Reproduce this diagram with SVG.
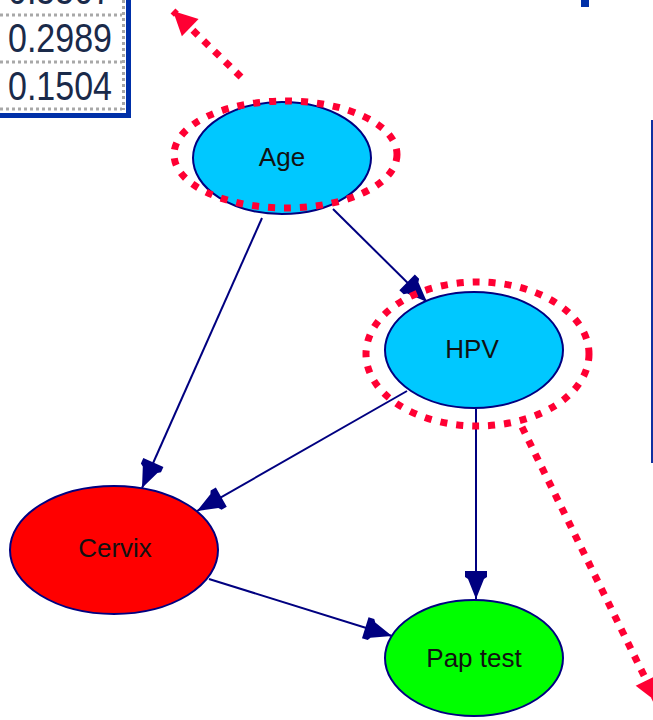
<svg xmlns="http://www.w3.org/2000/svg" width="653" height="720" viewBox="0 0 653 720">
  <defs>
    <marker id="navyHead" markerUnits="userSpaceOnUse" markerWidth="40" markerHeight="30" refX="0" refY="0" orient="auto" overflow="visible">
      <path d="M0,0 L-20,-8 L-22,-11 L-28,-11 L-28,11 L-22,11 L-20,8 Z" fill="#000080"/>
    </marker>
    <marker id="redHead" markerUnits="userSpaceOnUse" markerWidth="40" markerHeight="30" refX="0" refY="0" orient="auto" overflow="visible">
      <path d="M0,0 L-24,-12 L-24,12 Z" fill="#ff0033"/>
    </marker>
  </defs>
  <style>
    .node { stroke: #000080; stroke-width: 2; }
    .label { font-family: "Liberation Sans", Arial, sans-serif; font-size: 26px; fill: #111; text-anchor: middle; }
    .edge { stroke: #000080; stroke-width: 2; fill: none; marker-end: url(#navyHead); }
    .ring { fill: none; stroke: #ff0033; stroke-width: 7; stroke-dasharray: 7 9; }
    .pointer { fill: none; stroke: #ff0033; stroke-width: 7; stroke-dasharray: 7 8; marker-end: url(#redHead); }
    .cell { font-family: "Liberation Sans", Arial, sans-serif; font-size: 40px; fill: #1a2a4a; }
    .rule { stroke: #a8a8a8; stroke-width: 3; stroke-dasharray: 3 3; }
  </style>

  <rect width="653" height="720" fill="#ffffff"/>

  <!-- probability table corner -->
  <g id="table">
    <rect x="0" y="0" width="126" height="113" fill="#ffffff"/>
    <line class="rule" x1="0" y1="15" x2="122" y2="15"/>
    <line class="rule" x1="0" y1="62" x2="122" y2="62"/>
    <line class="rule" x1="0" y1="109" x2="122" y2="109"/>
    <line class="rule" x1="123.5" y1="0" x2="123.5" y2="110"/>
    <text class="cell" x="8" y="4" textLength="104" lengthAdjust="spacingAndGlyphs">0.5507</text>
    <text class="cell" x="8" y="52" textLength="104" lengthAdjust="spacingAndGlyphs">0.2989</text>
    <text class="cell" x="8" y="100" textLength="104" lengthAdjust="spacingAndGlyphs">0.1504</text>
    <rect x="126" y="0" width="5" height="118" fill="#0030a8"/>
    <rect x="0" y="113" width="131" height="5" fill="#0030a8"/>
  </g>

  <!-- frame fragments on the right -->
  <rect x="581" y="0" width="8" height="7" fill="#0030a8"/>
  <rect x="651" y="120" width="2.5" height="343" fill="#1030a0"/>

  <!-- connectors -->
  <g id="connectors">
    <line class="edge" x1="262" y1="218" x2="142" y2="488"/>
    <line class="edge" x1="333" y1="209" x2="427" y2="302"/>
    <line class="edge" x1="407" y1="391" x2="197" y2="511"/>
    <line class="edge" x1="476" y1="409" x2="476" y2="599"/>
    <line class="edge" x1="209" y1="579" x2="392" y2="636"/>
  </g>

  <g id="age">
    <ellipse class="node" cx="282" cy="158" rx="89" ry="56" fill="#00c8ff"/>
    <text class="label" x="282" y="166">Age</text>
  </g>
  <g id="hpv">
    <ellipse class="node" cx="474" cy="350" rx="89" ry="58" fill="#00c8ff"/>
    <text class="label" x="472" y="358">HPV</text>
  </g>
  <g id="cervix">
    <ellipse class="node" cx="114" cy="550" rx="104" ry="64" fill="#ff0000"/>
    <text class="label" x="115" y="557">Cervix</text>
  </g>
  <g id="pap-test">
    <ellipse class="node" cx="474" cy="658" rx="89" ry="58" fill="#00ff00"/>
    <text class="label" x="474" y="667">Pap test</text>
  </g>

  <!-- highlight rings and pointers -->
  <g id="highlights">
    <ellipse class="ring" cx="285.5" cy="154.5" rx="111.5" ry="53.5"/>
    <ellipse class="ring" cx="477.5" cy="354" rx="111.5" ry="72"/>
    <line class="pointer" x1="241" y1="77" x2="173" y2="11"/>
    <line class="pointer" x1="522" y1="427" x2="657" y2="702"/>
  </g>
</svg>
